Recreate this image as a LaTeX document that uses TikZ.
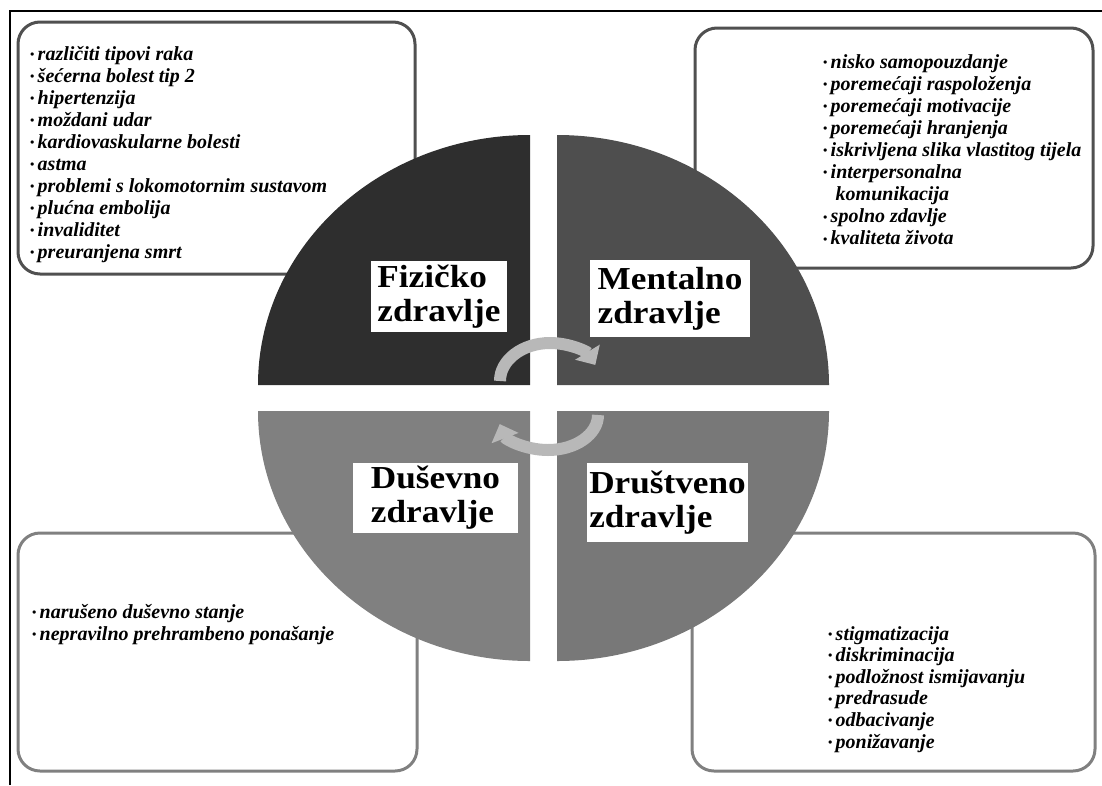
\documentclass[tikz,border=0pt]{standalone}
\usepackage{fontspec}
\setmainfont{Liberation Serif}
\newfontfamily\titlefont[FakeStretch=1.1]{Liberation Serif}
\usetikzlibrary{arrows.meta}

\definecolor{quadA}{RGB}{46,46,46}
\definecolor{quadB}{RGB}{78,78,78}
\definecolor{quadC}{RGB}{128,128,128}
\definecolor{quadD}{RGB}{120,120,120}
\definecolor{darkedge}{RGB}{80,80,80}
\definecolor{lightedge}{RGB}{128,128,128}
\definecolor{arrowgray}{RGB}{184,184,184}

\tikzset{
    listbox/.style={rounded corners=22pt, line width=3pt},
    item/.style={anchor=base west, inner sep=0pt,
        font=\fontsize{20}{22}\selectfont\bfseries\itshape},
    headbox/.style={fill=white, inner sep=0pt, align=left,
        font=\fontsize{32}{34}\selectfont\titlefont\bfseries},
    cyclearrow/.style={line width=12pt, arrowgray,
        -{Triangle[width=28pt, length=15pt]}},
}
\newcommand{\bul}{\raisebox{1.8pt}{\fontsize{12}{12}\selectfont\textbullet}\,}

\begin{document}
\begin{tikzpicture}[x=1pt, y=-1pt]
    \useasboundingbox (0, 0) rectangle (1102, 785);

    % frame
    \draw [line width=2pt] (10, 785) -- (10, 11) -- (1102, 11);

    % list boxes
    \draw [listbox, darkedge]  (18, 22)   rectangle (415, 274);
    \draw [listbox, darkedge]  (695, 28)  rectangle (1093, 268);
    \draw [listbox, lightedge] (18, 533)  rectangle (417, 771);
    \draw [listbox, lightedge] (692, 533) rectangle (1095, 771);

    % four quarters
    \fill [quadA] (530, 385) -- (258, 385) arc [start angle=180, end angle=270, x radius=272, y radius=250] -- cycle;
    \fill [quadB] (557, 385) -- (557, 135) arc [start angle=270, end angle=360, x radius=272, y radius=250] -- cycle;
    \fill [quadC] (530, 411) -- (258, 411) arc [start angle=180, end angle=90,  x radius=272, y radius=250] -- cycle;
    \fill [quadD] (557, 411) -- (829, 411) arc [start angle=0,   end angle=90,  x radius=272, y radius=250] -- cycle;

    \node [headbox, minimum width=136pt, minimum height=71pt] (fizicko)   at (439, 296.5)   {Fizičko\\zdravlje};
    \node [headbox, minimum width=160pt, minimum height=77pt] (mentalno)  at (670, 298.5)   {Mentalno\\zdravlje};
    \node [headbox, minimum width=165pt, minimum height=70pt] (dusevno)   at (435.5, 498)   {Duševno\\zdravlje};
    \node [headbox, minimum width=161pt, minimum height=79pt] (drustveno) at (667.5, 502.5) {Društveno\\zdravlje};

    \draw [cyclearrow] (500, 381) arc [start angle=180, end angle=335, x radius=50, y radius=38];
    \draw [cyclearrow] (598, 415) arc [start angle=0,   end angle=165, x radius=50, y radius=35];

    \foreach \txt [count=\i] in {\bul različiti tipovi raka, \bul šećerna bolest tip 2,
        \bul hipertenzija, \bul moždani udar, \bul kardiovaskularne bolesti, \bul astma,
        \bul problemi s lokomotornim sustavom, \bul plućna embolija, \bul invaliditet,
        \bul preuranjena smrt} {
        \node [item] (fizicko\i) at (30, 38 + 22*\i) {\txt};
        }

    \foreach \txt [count=\i] in {\bul nisko samopouzdanje, \bul poremećaji raspoloženja,
        \bul poremećaji motivacije, \bul poremećaji hranjenja,
        \bul iskrivljena slika vlastitog tijela, \bul interpersonalna,
        \phantom{\bul} komunikacija, \bul spolno zdavlje, \bul kvaliteta života} {
        \node [item] (mentalno\i) at (823, 46 + 22.1*\i) {\txt};
        }

    \foreach \txt [count=\i] in {\bul narušeno duševno stanje,
        \bul nepravilno prehrambeno ponašanje} {
        \node [item] (dusevno\i) at (32, 596 + 22*\i) {\txt};
        }

    \foreach \txt [count=\i] in {\bul stigmatizacija, \bul diskriminacija,
        \bul podložnost ismijavanju, \bul predrasude, \bul odbacivanje,
        \bul ponižavanje} {
        \node [item] (drustveno\i) at (828, 618.5 + 21.6*\i) {\txt};
        }
\end{tikzpicture}
\end{document}
